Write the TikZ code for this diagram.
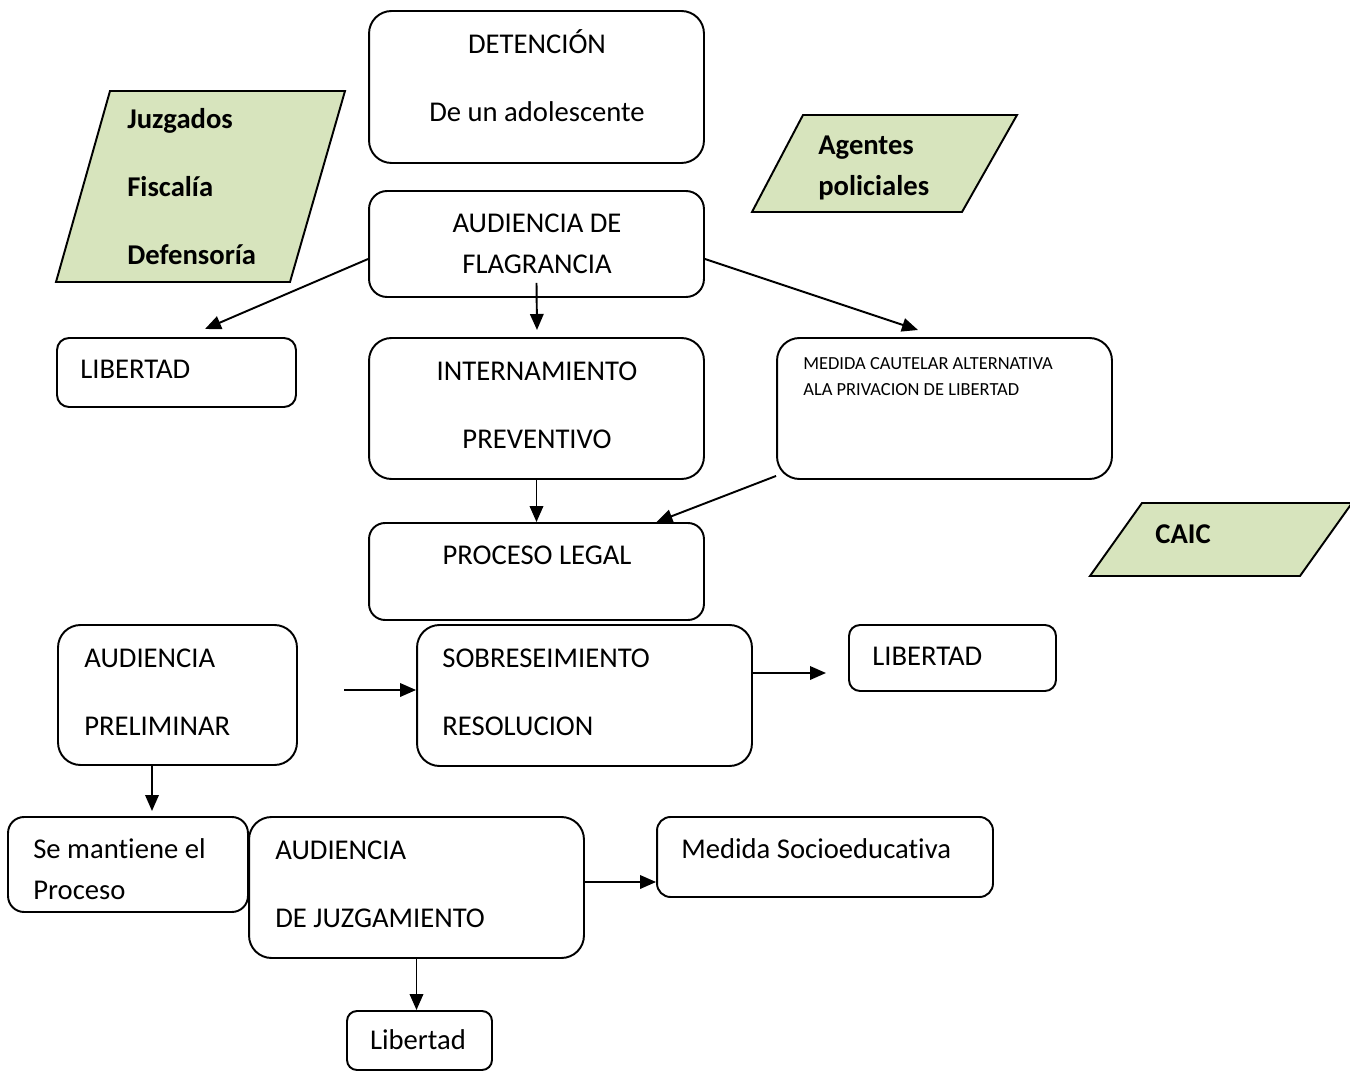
\documentclass[tikz,border=0pt]{standalone}
\usepackage{fontspec}
\setmainfont{Carlito}[RawFeature={-liga;-clig;-calt;-dlig}]
\usetikzlibrary{arrows.meta}
\definecolor{verde}{HTML}{D7E4BD}

\begin{document}
\begin{tikzpicture}[x=0.02cm,y=-0.02cm,
  caja/.style={draw,line width=1.1pt,inner sep=0pt},
  txt/.style={inner sep=0pt,font=\fontsize{16.3}{19.6}\selectfont},
  chico/.style={inner sep=0pt,font=\fontsize{10.5}{12.6}\selectfont},
  negrita/.style={inner sep=0pt,font=\fontsize{16.3}{19.6}\selectfont\bfseries},
  flecha/.style={line width=1.1pt,-{Triangle[length=0.32cm,width=0.27cm]}},
  para/.style={draw,line width=1.1pt,fill=verde}]
  \useasboundingbox (0,0) rectangle (1350,1071);

  % actores
  \draw[para] (110,91) -- (345,91) -- (290,282) -- (56,282) -- cycle;
  \draw[para] (803,115) -- (1017,115) -- (962,212) -- (752,212) -- cycle;
  \draw[para] (1142,503) -- (1352,503) -- (1300,576) -- (1090,576) -- cycle;
  \node[negrita,anchor=base west] (juzg) at (127,129) {Juzgados};
  \node[negrita,anchor=base west] (fisc) at (127,197) {Fiscalía};
  \node[negrita,anchor=base west] (defe) at (127,265) {Defensoría};
  \node[negrita,anchor=base west] (agen) at (818,155) {Agentes};
  \node[negrita,anchor=base west] (poli) at (818,196) {policiales};
  \node[negrita,anchor=base west] (caic) at (1155,543) {CAIC};

  % cajas
  \node[caja,minimum width=6.7cm,minimum height=3.04cm,rounded corners=0.45cm] (det) at (536.5,87) {};
  \node[caja,minimum width=6.7cm,minimum height=2.12cm,rounded corners=0.36cm] (flag) at (536.5,244) {};
  \node[caja,minimum width=4.78cm,minimum height=1.38cm,rounded corners=0.24cm] (lib1) at (176.5,372.5) {};
  \node[caja,minimum width=6.7cm,minimum height=2.82cm,rounded corners=0.45cm] (intern) at (536.5,408.5) {};
  \node[caja,minimum width=6.7cm,minimum height=2.82cm,rounded corners=0.45cm] (medida) at (944.5,408.5) {};
  \node[caja,minimum width=6.7cm,minimum height=1.94cm,rounded corners=0.32cm] (proc) at (536.5,571.5) {};
  \node[caja,minimum width=4.78cm,minimum height=2.8cm,rounded corners=0.45cm] (prelim) at (177.5,695) {};
  \node[caja,minimum width=6.7cm,minimum height=2.82cm,rounded corners=0.45cm] (sob) at (584.5,695.5) {};
  \node[caja,minimum width=4.14cm,minimum height=1.32cm,rounded corners=0.22cm] (lib2) at (952.5,658) {};
  \node[caja,minimum width=4.8cm,minimum height=1.9cm,rounded corners=0.32cm] (mant) at (128,864.5) {};
  \node[caja,minimum width=6.7cm,minimum height=2.82cm,rounded corners=0.45cm] (juz) at (416.5,887.5) {};
  \node[caja,minimum width=6.72cm,minimum height=1.6cm,rounded corners=0.27cm] (socio) at (825,857) {};
  \node[caja,minimum width=2.9cm,minimum height=1.18cm,rounded corners=0.2cm] (libb) at (419.5,1040.5) {};

  % textos
  \node[txt,anchor=base] (det-a) at (537,54) {DETENCIÓN};
  \node[txt,anchor=base] (det-b) at (537,122) {De un adolescente};
  \node[txt,anchor=base] (flag-a) at (537,233) {AUDIENCIA DE};
  \node[txt,anchor=base] (flag-b) at (537,274) {FLAGRANCIA};
  \node[txt,anchor=base west] (lib1-a) at (80,378) {LIBERTAD};
  \node[txt,anchor=base] (intern-a) at (537,380) {INTERNAMIENTO};
  \node[txt,anchor=base] (intern-b) at (537,448) {PREVENTIVO};
  \node[chico,anchor=base west] (medida-a) at (803,370) {MEDIDA CAUTELAR ALTERNATIVA};
  \node[chico,anchor=base west] (medida-b) at (803,396) {ALA PRIVACION DE LIBERTAD};
  \node[txt,anchor=base] (proc-a) at (537,564) {PROCESO LEGAL};
  \node[txt,anchor=base west] (prelim-a) at (84,667) {AUDIENCIA};
  \node[txt,anchor=base west] (prelim-b) at (84,735) {PRELIMINAR};
  \node[txt,anchor=base west] (sob-a) at (442,667) {SOBRESEIMIENTO};
  \node[txt,anchor=base west] (sob-b) at (442,735) {RESOLUCION};
  \node[txt,anchor=base west] (lib2-a) at (872,665) {LIBERTAD};
  \node[txt,anchor=base west] (mant-a) at (33,858) {Se mantiene el};
  \node[txt,anchor=base west] (mant-b) at (33,899) {Proceso};
  \node[txt,anchor=base west] (juz-a) at (275,859) {AUDIENCIA};
  \node[txt,anchor=base west] (juz-b) at (275,927) {DE JUZGAMIENTO};
  \node[txt,anchor=base west] (socio-a) at (681,858) {Medida Socioeducativa};
  \node[txt,anchor=base] (libb-a) at (418,1049) {Libertad};

  % puntas libres
  \coordinate (lib1tip) at (205,329);
  \coordinate (interntip) at (537,330);
  \coordinate (medidatip) at (918,330);
  \coordinate (sobin) at (344,690);
  \coordinate (lib2tip) at (826,673);
  \coordinate (manttip) at (152,811);

  % flechas
  \draw[flecha] ([yshift=-0.3cm]flag.west) -- (lib1tip);
  \draw[flecha] ([yshift=0.3cm]flag.south) -- (interntip);
  \draw[flecha] ([yshift=-0.3cm]flag.east) -- (medidatip);
  \draw[flecha] (intern.south) -- (proc.north);
  \draw[flecha] ([yshift=0.08cm]medida.south west) -- ([xshift=2.4cm]proc.north);
  \draw[flecha] (sobin) -- ([yshift=0.11cm]sob.west);
  \draw[flecha] ([yshift=0.45cm]sob.east) -- (lib2tip);
  \draw[flecha] ([xshift=-0.51cm]prelim.south) -- (manttip);
  \draw[flecha] ([yshift=0.11cm]juz.east) -- ([yshift=0.11cm]juz.east -| socio.west);
  \draw[flecha] (juz.south) -- (juz.south |- libb.north);
\end{tikzpicture}
\end{document}
